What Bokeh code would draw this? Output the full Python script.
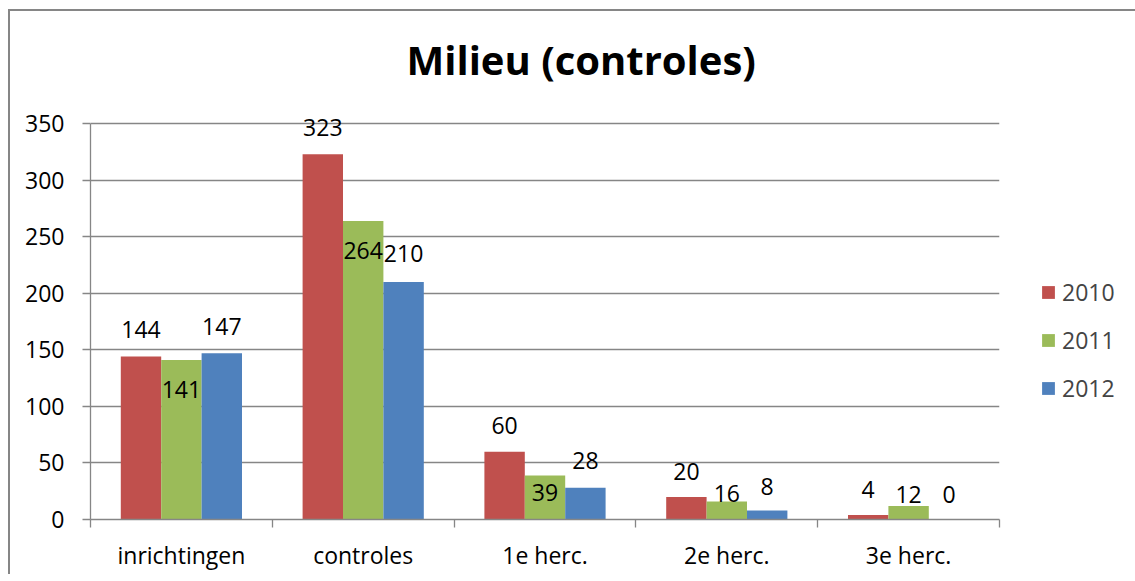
import numpy as np
from bokeh.plotting import figure
from bokeh.models import Range1d, FixedTicker, Legend, LegendItem, ColumnDataSource
from bokeh.core.properties import value
from bokeh.embed import file_html
from bokeh.resources import INLINE

# ---- data ----
categories = ["inrichtingen", "controles", "1e herc.", "2e herc.", "3e herc."]
years = ["2010", "2011", "2012"]
values_2010 = [144, 323, 60, 20, 4]
values_2011 = [141, 264, 39, 16, 12]
values_2012 = [147, 210, 28, 8, 0]
y_ticks = [0, 50, 100, 150, 200, 250, 300, 350]

# ---- style ----
colors = ["#C0504D", "#9BBB59", "#4F81BD"]
# vertical pixel lift of each data label above its bar top (negative = inside bar)
label_lift = [[27, 27, 26, 25, 25], [-29, -30, -17, 8, 11], [27, 28, 27, 24, 25]]
FONT = "Open Sans"
GREY = "#868686"
FS = "23px"
bar_w = 1 / 4.5

p = figure(frame_width=909, frame_height=414,
           min_border_left=80, min_border_right=130,
           min_border_top=93, min_border_bottom=55,
           x_range=Range1d(0, len(categories)), y_range=Range1d(0, 366),
           output_backend="svg", toolbar_location=None,
           title="Milieu (controles)")
p.margin = (9, 0, 0, 8)
p.styles = {"border-left": "2px solid #868686", "border-top": "2px solid #868686"}

p.title.text_font = FONT
p.title.text_font_size = "40px"
p.title.text_font_style = "bold"
p.title.text_color = "black"
p.title.align = "left"
p.title.offset = 316
p.title.standoff = 37

p.outline_line_color = None
p.background_fill_color = "white"
p.border_fill_color = "white"

series = [values_2010, values_2011, values_2012]
items = []
base = np.arange(len(categories)) + 0.5
for i, (yr, vals) in enumerate(zip(years, series)):
    xs = base + (i - 1) * bar_w
    src = ColumnDataSource(dict(x=xs, top=vals, lab=[str(v) for v in vals],
                                dy=[-d for d in label_lift[i]]))
    r = p.vbar(x="x", top="top", width=bar_w, bottom=0, source=src,
               fill_color=colors[i], line_color=None)
    p.text(x="x", y="top", text="lab", y_offset="dy", source=src,
           text_align="center", text_baseline="middle",
           text_font=value(FONT), text_font_size=FS, text_color="black")
    items.append(LegendItem(label=yr, renderers=[r]))

legend = Legend(items=items, location=(41, 115),
                label_text_font=FONT, label_text_font_size=FS,
                glyph_width=16, glyph_height=16, label_standoff=6,
                spacing=16, padding=0, margin=0,
                border_line_color=None, background_fill_alpha=0)
p.add_layout(legend, "right")

# x axis: labels at category centres, ticks at boundaries
xa = p.xaxis[0]
xa.ticker = FixedTicker(ticks=list(base), minor_ticks=list(range(len(categories) + 1)))
xa.major_label_overrides = {float(b): c for b, c in zip(base, categories)}
xa.major_tick_out = 0
xa.major_tick_in = 0
xa.minor_tick_out = 8
xa.minor_tick_in = 0
xa.minor_tick_line_color = GREY
xa.minor_tick_line_width = 1.3
xa.axis_line_color = GREY
xa.axis_line_width = 1.3
xa.major_label_text_font = FONT
xa.major_label_text_font_size = FS
xa.major_label_text_color = "black"
xa.major_label_standoff = 11

ya = p.yaxis[0]
ya.ticker = FixedTicker(ticks=y_ticks, minor_ticks=[])
ya.bounds = (0, 350)
ya.major_tick_out = 8
ya.major_tick_in = 0
ya.major_tick_line_color = GREY
ya.major_tick_line_width = 1.3
ya.axis_line_color = GREY
ya.axis_line_width = 1.3
ya.major_label_text_font = FONT
ya.major_label_text_font_size = FS
ya.major_label_text_color = "black"
ya.major_label_standoff = 18

p.xgrid.visible = False
p.ygrid.ticker = FixedTicker(ticks=y_ticks)
p.ygrid.grid_line_color = GREY
p.ygrid.grid_line_width = 1.3

open("out.html", "w").write(file_html(p, INLINE))
